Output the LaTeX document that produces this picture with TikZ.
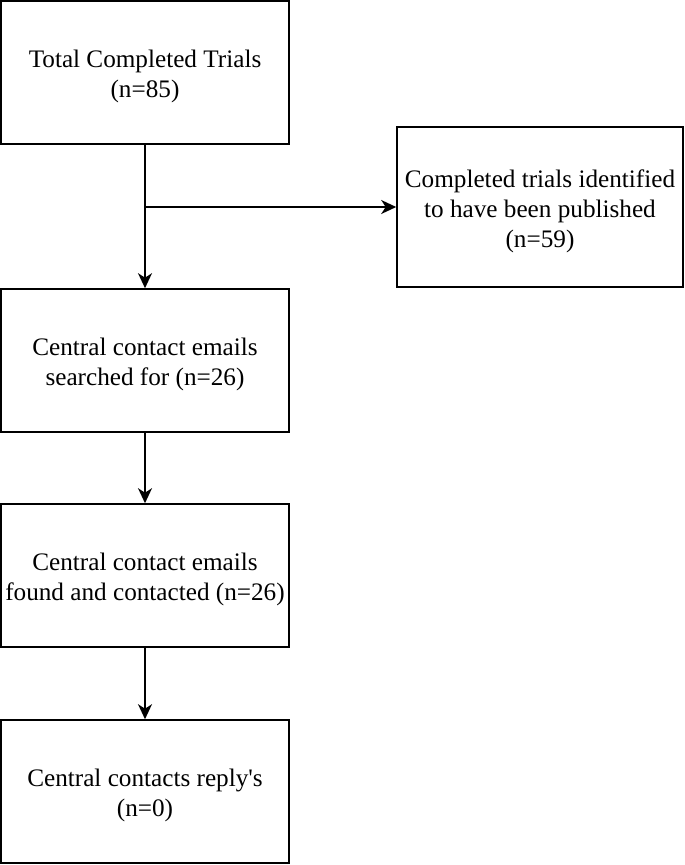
\documentclass[tikz,border=0pt]{standalone}
\usepackage{fontspec}
\setmainfont{Liberation Serif}[Ligatures=TeXOff]
\usetikzlibrary{arrows.meta}
\begin{document}
\begin{tikzpicture}[x=1pt,y=-1pt,
 box/.style={draw, line width=1.6pt, minimum width=288pt, minimum height=143pt, inner sep=0pt},
 txt/.style={align=center, inner sep=0pt, font=\fontsize{25.2}{30}\selectfont},
 arr/.style={line width=1.6pt, -{Stealth[length=15pt,width=14pt,inset=4.5pt]}}]
\useasboundingbox (0,0) rectangle (685,865);
\node[box] (a) at (145,72.5) {};
\node[box, minimum width=286pt, minimum height=160pt] (r) at (540,207) {};
\node[box] (b) at (145,360.5) {};
\node[box] (c) at (145,575.5) {};
\node[box] (d) at (145,791.5) {};
\node[txt] (at) at ([yshift=-3.5pt]a.center) {Total Completed Trials\\(n=85)};
\node[txt] (rt) at ([yshift=-4pt]r.center) {Completed trials identified\\to have been published\\(n=59)};
\node[txt] (bt) at ([yshift=-3.5pt]b.center) {Central contact emails\\searched for (n=26)};
\node[txt] (ct) at ([yshift=-3.5pt]c.center) {Central contact emails\\found and contacted (n=26)};
\node[txt] (dt) at ([yshift=-3.5pt]d.center) {Central contacts reply's\\(n=0)};
\coordinate (br) at (a.south |- r.west);
\draw[arr] (a.south) -- (b.north);
\draw[arr] (br) -- (r.west);
\draw[arr] (b.south) -- (c.north);
\draw[arr] (c.south) -- (d.north);
\end{tikzpicture}
\end{document}
